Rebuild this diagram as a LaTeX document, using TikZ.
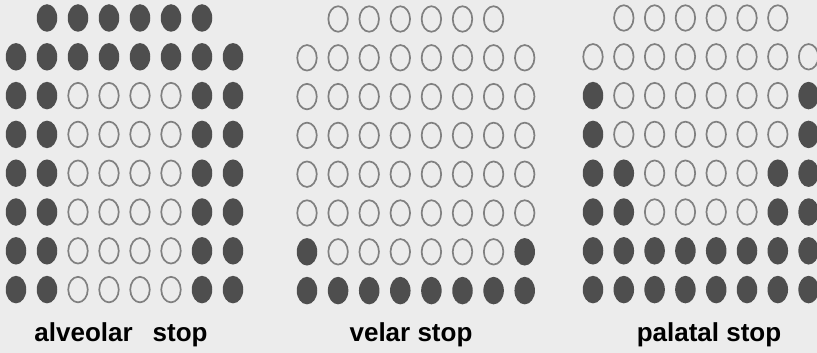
\documentclass[tikz,border=0pt]{standalone}
\usepackage{fontspec}
\setmainfont{Liberation Sans}
\usepackage{xcolor}
\usepackage{tikz}
\usetikzlibrary{positioning,shapes.geometric}

\definecolor{paper}{RGB}{236,236,236}
\definecolor{padgray}{RGB}{78,78,78}
\definecolor{ringgray}{RGB}{128,128,128}

\begin{document}
\begin{tikzpicture}[
  x=1pt, y=-1pt,
  dot c/.style={ellipse, fill=padgray, draw=none, inner sep=0pt,
                minimum width=20.5pt, minimum height=27.5pt},
  dot o/.style={ellipse, draw=ringgray, line width=1.7pt, inner sep=0pt,
                minimum width=19.5pt, minimum height=25.5pt},
  caption/.style={anchor=base, inner sep=0pt,
                  font=\fontsize{26}{30}\selectfont\bfseries}
]
% Scale: 1pt = 1px of the 817x353 reference, y runs downwards
% c = contact (filled pad), o = no contact (open pad)

%% --- Background ----------------------------------------------
\fill[paper] (0,0) rectangle (817,353);
\useasboundingbox (0,0) rectangle (817,353);

%% --- Alveolar stop (left palate) -----------------------------
\foreach \r/\first/\states in {
    1/2/{c,c,c,c,c,c},
    2/1/{c,c,c,c,c,c,c,c},
    3/1/{c,c,o,o,o,o,c,c},
    4/1/{c,c,o,o,o,o,c,c},
    5/1/{c,c,o,o,o,o,c,c},
    6/1/{c,c,o,o,o,o,c,c},
    7/1/{c,c,o,o,o,o,c,c},
    8/1/{c,c,o,o,o,o,c,c}}{
  \foreach \s [count=\c from \first] in \states{
    \node[dot \s] (alv-\r-\c) at ({16+31*(\c-1)}, {18+38.8*(\r-1)}) {};
  }
}

%% --- Velar stop (middle palate) ------------------------------
\foreach \r/\first/\states in {
    1/2/{o,o,o,o,o,o},
    2/1/{o,o,o,o,o,o,o,o},
    3/1/{o,o,o,o,o,o,o,o},
    4/1/{o,o,o,o,o,o,o,o},
    5/1/{o,o,o,o,o,o,o,o},
    6/1/{o,o,o,o,o,o,o,o},
    7/1/{c,o,o,o,o,o,o,c},
    8/1/{c,c,c,c,c,c,c,c}}{
  \foreach \s [count=\c from \first] in \states{
    \node[dot \s] (vel-\r-\c) at ({307+31.1*(\c-1)}, {19+38.8*(\r-1)}) {};
  }
}

%% --- Palatal stop (right palate, cut at the edge) ------------
\foreach \r/\first/\states in {
    1/2/{o,o,o,o,o,o},
    2/1/{o,o,o,o,o,o,o,o},
    3/1/{c,o,o,o,o,o,o,c},
    4/1/{c,o,o,o,o,o,o,c},
    5/1/{c,c,o,o,o,o,c,c},
    6/1/{c,c,o,o,o,o,c,c},
    7/1/{c,c,c,c,c,c,c,c},
    8/1/{c,c,c,c,c,c,c,c}}{
  \foreach \s [count=\c from \first] in \states{
    \node[dot \s] (pal-\r-\c) at ({593+30.8*(\c-1)}, {18+38.8*(\r-1)}) {};
  }
}

%% --- Captions ------------------------------------------------
\node[caption] (alvlabel) at (121,341) {alveolar\hspace{20pt}stop};
\node[caption] (vellabel) at (411,341) {velar stop};
\node[caption] (pallabel) at (709,341) {palatal stop};

\end{tikzpicture}
\end{document}
